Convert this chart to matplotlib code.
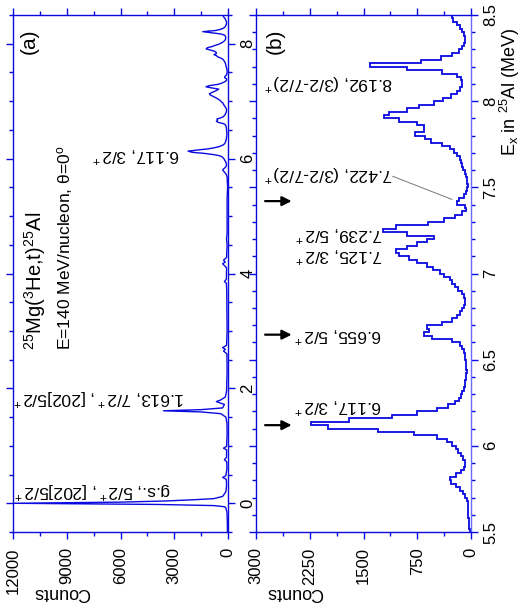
import matplotlib
matplotlib.use('Agg')
import matplotlib.pyplot as plt
from matplotlib.ticker import MultipleLocator
import numpy as np

plt.rcParams['font.family'] = ['Liberation Sans', 'DejaVu Sans']
plt.rcParams['mathtext.fontset'] = 'custom'
plt.rcParams['mathtext.rm'] = 'Liberation Sans'
plt.rcParams['mathtext.it'] = 'Liberation Sans:italic'
plt.rcParams['mathtext.default'] = 'regular'

ex_a_low = [-0.50, -0.30, -0.15, -0.08, -0.06, -0.04, -0.02, 0.00, 0.02, 0.04, 0.06, 0.08,
            0.12, 0.20, 0.30, 0.40, 0.42, 0.45, 0.48, 0.60, 0.72, 0.76, 0.80, 0.93, 0.96,
            0.99, 1.20, 1.40, 1.50, 1.56, 1.59, 1.61, 1.63, 1.66, 1.72, 1.77, 1.80, 1.85,
            1.95, 2.30, 2.60, 2.65, 2.68, 2.71, 2.75, 3.00, 3.40, 3.70, 3.83, 3.86, 3.90,
            4.10, 4.17, 4.20, 4.23, 4.28, 4.50, 4.60, 4.70, 5.00, 5.30]
counts_a_low = [30, 40, 60, 120, 200, 800, 4000, 12000, 6000, 3500, 2000, 800,
                300, 120, 80, 90, 110, 300, 120, 60, 70, 200, 80, 80, 250,
                80, 50, 60, 120, 400, 1500, 3600, 1500, 300, 200, 650, 400, 150,
                80, 50, 60, 250, 150, 300, 80, 50, 60, 70, 90, 200, 90,
                80, 300, 150, 250, 80, 50, 80, 50, 50, 50]

# panel (b): 0.02 MeV bins from 5.50 to 8.50 MeV
ex_edges_b = np.round(np.arange(5.50, 8.501, 0.02), 2)
counts_b = [20, 25, 30, 30, 35, 40, 40, 40, 45, 60,
            80, 110, 160, 210, 280, 290, 210, 140, 100, 85,
            85, 110, 140, 180, 210, 260, 330, 470, 800, 1300,
            2000, 2230, 1700, 1100, 750, 480, 320, 220, 170, 140,
            120, 100, 90, 80, 70, 65, 60, 65, 70, 75,
            80, 90, 100, 120, 150, 260, 540, 650, 580, 620,
            400, 260, 200, 160, 120, 100, 85, 80, 100, 130,
            180, 220, 260, 290, 380, 430, 530, 620, 750, 870,
            1000, 1040, 900, 750, 620, 520, 900, 1230, 1050, 600,
            380, 230, 120, 70, 90, 190, 170, 100, 70, 55,
            45, 50, 60, 75, 90, 105, 120, 140, 160, 190,
            240, 290, 400, 560, 640, 780, 650, 660, 760, 1000,
            1220, 1150, 900, 720, 520, 390, 280, 200, 150, 130,
            130, 140, 200, 400, 900, 1410, 700, 420, 260, 170,
            130, 100, 85, 80, 95, 120, 150, 200, 250, 270]

ex_centers_b = (ex_edges_b[:-1] + ex_edges_b[1:]) / 2
ex_a = list(ex_a_low) + list(ex_centers_b)
counts_a = list(counts_a_low) + list(counts_b)

# ticks
ticks_a_counts = [0, 3000, 6000, 9000, 12000]
ticks_a_ex = [0, 2, 4, 6, 8]
ticks_b_counts = [0, 750, 1500, 2250, 3000]
ticks_b_ex = [5.5, 6, 6.5, 7, 7.5, 8, 8.5]
ticklabels_b_ex = ['5.5', '6', '6.5', '7', '7.5', '8', '8.5']

# peak labels: (text, counts, Ex)
labels_a = [('g.s., 5/2$^+$, [202]5/2$^+$', 3200, 0.22),
            ('1.613, 7/2$^+$, [202]5/2$^+$', 2400, 1.84),
            ('6.117, 3/2$^+$', 2680, 6.07)]
labels_b = [('6.117, 3/2$^+$', 1246, 6.23),
            ('6.655, 5/2$^+$', 1246, 6.645),
            ('7.125, 3/2$^+$', 1232, 7.105),
            ('7.239, 5/2$^+$', 1232, 7.23),
            ('7.422, (3/2-7/2)$^+$', 1092, 7.58),
            ('8.192, (3/2-7/2)$^+$', 1092, 8.11)]
arrows_b_ex = [6.12, 6.645, 7.42]

blue = '#0a0ae0'
W, H = 525, 610
fig = plt.figure(figsize=(W / 100, H / 100), dpi=100)
ax_a = fig.add_axes([13 / W, 1 - 532 / H, 215 / W, 517 / H])
ax_b = fig.add_axes([256 / W, 1 - 532 / H, 215 / W, 517 / H])

ax_a.plot(counts_a, ex_a, color=blue, lw=1.0)
ax_b.stairs(counts_b, ex_edges_b, orientation='horizontal', baseline=None, color=blue, lw=1.3)

ax_a.set_xlim(12000, 0)
ax_a.set_ylim(-0.5, 8.5)
ax_b.set_xlim(3000, 0)
ax_b.set_ylim(5.5, 8.5)

ax_a.set_xticks(ticks_a_counts)
ax_a.xaxis.set_minor_locator(MultipleLocator(1500))
ax_a.set_yticks(ticks_a_ex)
ax_a.yaxis.set_minor_locator(MultipleLocator(0.5))
ax_b.set_xticks(ticks_b_counts)
ax_b.xaxis.set_minor_locator(MultipleLocator(375))
ax_b.set_yticks(ticks_b_ex)
ax_b.set_yticklabels(ticklabels_b_ex)
ax_b.yaxis.set_minor_locator(MultipleLocator(0.1))

for ax in (ax_a, ax_b):
    for s in ax.spines.values():
        s.set_color(blue)
        s.set_linewidth(1.0)
    ax.tick_params(axis='y', which='both', left=True, right=True, labelleft=False,
                   labelright=True)
    ax.tick_params(axis='x', which='both', top=True, bottom=True)
    ax.tick_params(which='both', direction='out', color=blue, labelcolor='black',
                   labelsize=12, labelrotation=90)
    ax.tick_params(which='major', length=5, width=1)
    ax.tick_params(which='minor', length=3, width=1)
    ax.tick_params(axis='x', pad=6)
    ax.tick_params(axis='y', pad=4)
    for lab in ax.get_yticklabels():
        lab.set_va('center')
ax_b.spines['right'].set_color('#6a6aff')

for txt, c, e in labels_a:
    ax_a.text(c, e, txt, rotation=180, ha='right', va='center', fontsize=12.5)
for txt, c, e in labels_b:
    ax_b.text(c, e, txt, rotation=180, ha='right', va='center', fontsize=12.5)
for e in arrows_b_ex:
    ax_b.annotate('', xy=(2464, e), xytext=(2912, e),
                  arrowprops=dict(arrowstyle='-|>', color='black', lw=1.6, mutation_scale=14))
ax_b.plot([1092, 266], [7.564, 7.43], color='#777777', lw=0.7)

ax_a.text(0.074, 0.95, '(a)', transform=ax_a.transAxes, rotation=90, ha='center',
          va='center', fontsize=15)
ax_b.text(0.09, 0.95, '(b)', transform=ax_b.transAxes, rotation=90, ha='center',
          va='center', fontsize=15)

fig.text(35 / W, 1 - 350 / H, '$^{25}$Mg($^{3}$He,t)$^{25}$Al', rotation=90, ha='center',
         va='bottom', fontsize=14.5)
fig.text(65 / W, 1 - 350 / H, 'E=140 MeV/nucleon, θ=0$^o$', rotation=90, ha='center',
         va='bottom', fontsize=12.5)
fig.text(510 / W, 1 - 92 / H, 'E$_x$ in $^{25}$Al (MeV)', rotation=90, ha='center',
         va='center', fontsize=13)
fig.text(62 / W, 1 - 592 / H, 'Counts', rotation=180, ha='center', va='center', fontsize=13)
fig.text(295 / W, 1 - 592 / H, 'Counts', rotation=180, ha='center', va='center', fontsize=13)

fig.savefig('out.png', dpi=100)
